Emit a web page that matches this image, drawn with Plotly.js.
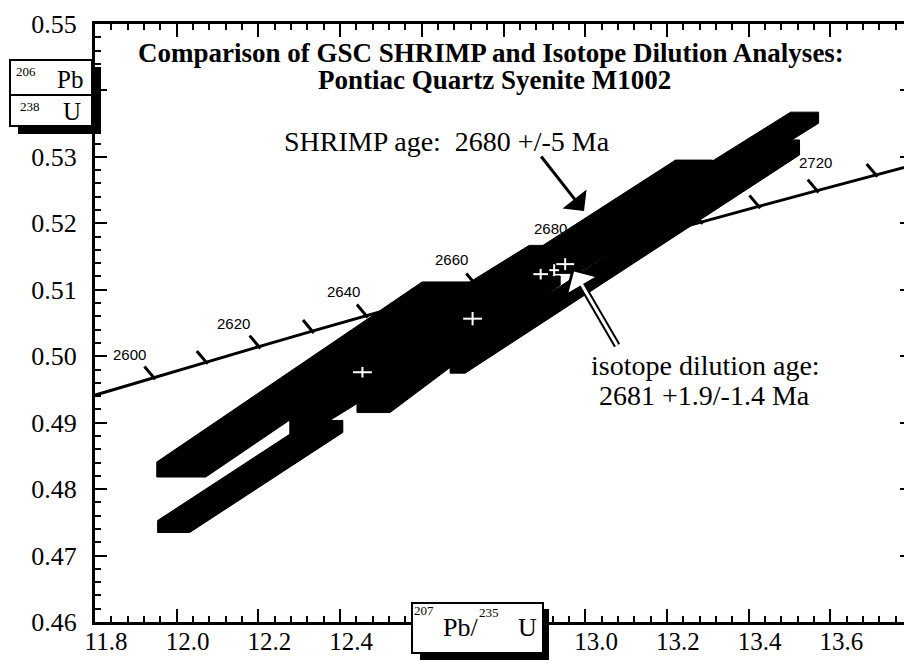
<!DOCTYPE html>
<html><head><meta charset="utf-8">
<script src="https://cdn.plot.ly/plotly-3.0.1.min.js"></script>
<style>html,body{margin:0;padding:0;overflow:hidden;background:#fff}#chart{width:920px;height:664px}</style>
</head><body><div id="chart"></div><script>
// ---- concordia curve (207Pb/235U, 206Pb/238U) by age in Ma ----
const concAge = [2580,2590,2600,2610,2620,2630,2640,2650,2660,2670,2680,2690,2700,2710,2720,2730,2740];
const concX = [11.6913,11.8169,11.9437,12.0718,12.2012,12.3318,12.4638,12.5971,12.7316,12.8675,13.0048,13.1434,13.2834,13.4247,13.5675,13.7117,13.8573];
const concY = [0.49216,0.49447,0.49679,0.49912,0.50144,0.50378,0.50611,0.50845,0.51079,0.51314,0.51548,0.51784,0.52019,0.52255,0.52492,0.52728,0.52966];
const tickAges = [2600,2610,2620,2630,2640,2650,2660,2670,2680,2690,2700,2710,2720,2730];
const labelAges = [2600,2620,2640,2660,2680,2700,2720];

// ---- SHRIMP analyses: error boxes (centre, half-widths, correlated half-axis) ----
const boxX     = [12.180, 12.336, 12.587, 12.690, 13.097, 12.960, 13.243];
const boxY     = [0.4819, 0.4965, 0.5023, 0.5018, 0.5150, 0.5165, 0.5246];
const boxHalfX = [0.0392, 0.0600, 0.0172, 0.0404, 0.0184, 0.0453, 0.0343];
const boxHalfY = [0.0009, 0.00113, 0.00324, 0.00068, 0.00113, 0.0009, 0.00083];
const boxCorrX = [0.1875, 0.3248, 0.2929, 0.2083, 0.4093, 0.3064, 0.2941];
const boxCorrY = [0.00753, 0.01355, 0.01114, 0.0096, 0.01642, 0.01212, 0.0113];

// ---- isotope dilution analyses ----
const idX    = [12.4547, 12.7243, 12.891, 12.924, 12.951];
const idY    = [0.49759, 0.50565, 0.51235, 0.51295, 0.51386];
const idErrX = [0.023, 0.023, 0.018, 0.012, 0.022];
const idErrY = [0.0008, 0.001, 0.0008, 0.0009, 0.0009];

// ---- axis ticks (labels hidden behind the axis-title boxes are blank) ----
const xTicks = [11.8,12.0,12.2,12.4,12.6,12.8,13.0,13.2,13.4,13.6];
const xTickText = ['11.8','12.0','12.2','12.4','','','13.0','13.2','13.4','13.6'];
const yTicks = [0.46,0.47,0.48,0.49,0.50,0.51,0.52,0.53,0.54,0.55];
const yTickText = ['0.46','0.47','0.48','0.49','0.50','0.51','0.52','0.53','','0.55'];

const traces = [];
traces.push({x: concX, y: concY, mode:'lines', line:{color:'#000', width:3}, hoverinfo:'skip', showlegend:false});
const tX = tickAges.map(a => concX[concAge.indexOf(a)]);
const tY = tickAges.map(a => concY[concAge.indexOf(a)]);
traces.push({x: tX, y: tY, mode:'markers', hoverinfo:'skip', showlegend:false,
  marker:{symbol:'line-ns', size:12, angle:140, standoff:6, color:'#000', line:{color:'#000', width:3}}});
for (let i = 0; i < boxX.length; i++) {
  const cx = boxX[i], cy = boxY[i], h = boxHalfX[i], v = boxHalfY[i], dx = boxCorrX[i], dy = boxCorrY[i];
  const xs = [cx-h-dx, cx+h-dx, cx+h+dx, cx+h+dx, cx-h+dx, cx-h-dx, cx-h-dx];
  const ys = [cy-v-dy, cy-v-dy, cy-v+dy, cy+v+dy, cy+v+dy, cy+v-dy, cy-v-dy];
  traces.push({x: xs, y: ys, mode:'lines', fill:'toself', fillcolor:'#000', line:{color:'#000', width:1}, hoverinfo:'skip', showlegend:false});
}
traces.push({x: idX, y: idY, mode:'markers', hoverinfo:'skip', showlegend:false,
  marker:{size:1, color:'#fff'},
  error_x:{type:'data', array: idErrX, visible:true, color:'#fff', thickness:2, width:0},
  error_y:{type:'data', array: idErrY, visible:true, color:'#fff', thickness:2, width:0}});

// pixel -> paper helpers (plot area 95..912 x 24..622)
const L = 95, T = 24, W = 817, H = 598;
const px = p => (p - L) / W;
const py = p => 1 - (p - T) / H;

const serif = "'Liberation Serif', 'Times New Roman', serif";
const ann = [];
const labelShift = {2600:[-24,23], 2620:[-25,23], 2640:[-23,24], 2660:[-24,25], 2680:[-37,25], 2700:[-24,24], 2720:[-2,28]};
labelAges.forEach(a => {
  const k = concAge.indexOf(a);
  ann.push({x: concX[k], y: concY[k], xref:'x', yref:'y', text: String(a), showarrow:false,
    xshift: labelShift[a][0], yshift: labelShift[a][1], font:{family:"'Liberation Sans', Arial, sans-serif", size:15, color:'#000'}});
});
function txt(x, y, t, size, bold) {
  ann.push({x: px(x), y: py(y), xref:'paper', yref:'paper', text: bold ? '<b>'+t+'</b>' : t, showarrow:false,
    xanchor:'center', yanchor:'middle', font:{family: serif, size: size, color:'#000'}});
}
txt(491, 53, 'Comparison of GSC SHRIMP and Isotope Dilution Analyses:', 27, true);
txt(494, 80, 'Pontiac Quartz Syenite M1002', 27, true);
txt(447, 141, 'SHRIMP age:  2680 +/-5 Ma', 28);
txt(705, 365, 'isotope dilution age:', 28);
txt(704, 395, '2681 +1.9/-1.4 Ma', 28);
// axis-title boxes text
txt(26, 71, '206', 13); txt(70, 80, 'Pb', 25); txt(30, 106, '238', 13); txt(72, 111, 'U', 25);
txt(424, 610, '207', 13); txt(460, 627, 'Pb/', 26); txt(489, 612, '235', 13); txt(527, 627, 'U', 26);
// arrows
ann.push({x: px(584), y: py(211), xref:'paper', yref:'paper', ax:-44, ay:-56, text:'', showarrow:true,
  arrowhead:1, arrowsize:1.7, arrowwidth:3, arrowcolor:'#000'});
ann.push({x: px(572), y: py(268), xref:'paper', yref:'paper', ax:46, ay:79, text:'', showarrow:true,
  arrowhead:1, arrowsize:1.1, arrowwidth:7, arrowcolor:'#000'});
ann.push({x: px(572), y: py(268), xref:'paper', yref:'paper', ax:46, ay:79, text:'', showarrow:true,
  arrowhead:1, arrowsize:1.7, arrowwidth:3, arrowcolor:'#fff', standoff:4});

const shapes = [
  {type:'rect', xref:'paper', yref:'paper', x0:px(18), x1:px(101), y0:py(67), y1:py(134), fillcolor:'#000', line:{width:0}, layer:'above'},
  {type:'rect', xref:'paper', yref:'paper', x0:px(10), x1:px(92), y0:py(60), y1:py(126), fillcolor:'#fff', line:{color:'#000', width:2}, layer:'above'},
  {type:'line', xref:'paper', yref:'paper', x0:px(10), x1:px(91), y0:py(95), y1:py(95), line:{color:'#000', width:2}, layer:'above'},
  {type:'rect', xref:'paper', yref:'paper', x0:px(420), x1:px(549), y0:py(609), y1:py(660), fillcolor:'#000', line:{width:0}, layer:'above'},
  {type:'rect', xref:'paper', yref:'paper', x0:px(412), x1:px(543), y0:py(603), y1:py(653), fillcolor:'#fff', line:{color:'#000', width:2}, layer:'above'}
];

const axBase = {showgrid:false, zeroline:false, showline:true, linewidth:3, linecolor:'#000', mirror:'ticks',
  ticks:'inside', tickwidth:2, tickcolor:'#000', tickmode:'array'};
const layout = {
  width:920, height:664, margin:{l:L, r:920-L-W, t:T, b:664-T-H},
  font:{family: serif, size:24, color:'#000'},
  paper_bgcolor:'#fff', plot_bgcolor:'#fff', showlegend:false,
  xaxis: Object.assign({}, axBase, {range:[11.8,13.8], tickvals:xTicks, ticktext:xTickText, ticklen:13,
    tickfont:{family:serif, size:25, color:'#000'}, ticklabelshift:11, ticklabelstandoff:-5,
    minor:{tickmode:'linear', tick0:11.8, dtick:0.04, ticks:'inside', ticklen:6, tickwidth:2, tickcolor:'#000', showgrid:false}}),
  yaxis: Object.assign({}, axBase, {range:[0.46,0.55], tickvals:yTicks, ticktext:yTickText, ticklen:12,
    tickfont:{family:serif, size:26, color:'#000'}, ticklabelstandoff:10,
    minor:{tickmode:'linear', tick0:0.46, dtick:0.002, ticks:'inside', ticklen:6, tickwidth:2, tickcolor:'#000', showgrid:false}}),
  annotations: ann, shapes: shapes
};
Plotly.newPlot('chart', traces, layout, {staticPlot:true, displayModeBar:false});
</script></body></html>
